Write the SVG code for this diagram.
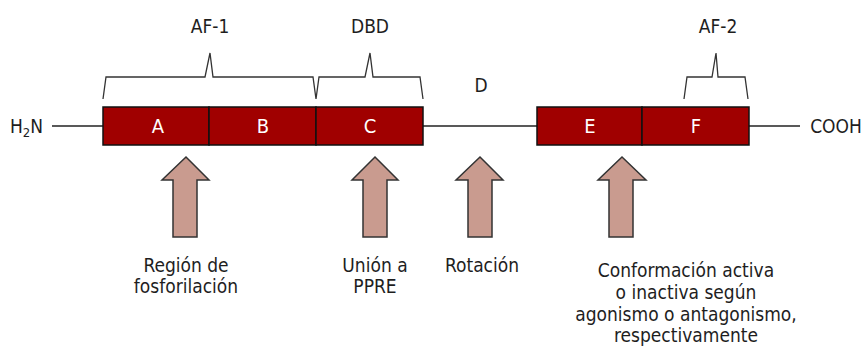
<svg xmlns="http://www.w3.org/2000/svg" width="865" height="347" viewBox="0 0 865 347">
<style>
text{font-family:"DejaVu Sans Condensed","Liberation Sans",sans-serif;font-stretch:condensed;font-size:19px;fill:#1e1e1e;text-anchor:middle}
.dom rect{fill:#a00000;stroke:#111;stroke-width:1.5}
.dom text{fill:#fff;font-size:20px}
.line{stroke:#222;stroke-width:1.5;fill:none}
.brace{stroke:#333;stroke-width:1.3;fill:none}
.arrow{fill:#c99b8f;stroke:#333;stroke-width:1.5}
</style>
<rect width="865" height="347" fill="#fff"/>
<g id="connectors">
<line class="line" x1="52" y1="126" x2="103" y2="126"/>
<line class="line" x1="423" y1="126" x2="537" y2="126"/>
<line class="line" x1="749" y1="126" x2="800" y2="126"/>
</g>
<g id="braces">
<path class="brace" d="M103,99 L106,77 L205,77 L210,53 L213,77 L313,77 L316,99 L319,77 L365,77 L370,53 L373,77 L420,77 L423,99"/>
<path class="brace" d="M684,99 L687,77 L712,77 L716,53 L718,77 L745,77 L748,99"/>
</g>
<g id="labels">
<text x="10" y="133" style="text-anchor:start">H<tspan font-size="13" dy="4">2</tspan><tspan dy="-4">N</tspan></text>
<text x="836" y="133">COOH</text>
<text x="210" y="33">AF-1</text>
<text x="370" y="33">DBD</text>
<text x="481" y="92">D</text>
<text x="718" y="33">AF-2</text>
</g>
<g id="node-A" class="dom"><rect x="103" y="107" width="106" height="38"/><text x="158" y="133">A</text></g>
<g id="node-B" class="dom"><rect x="209" y="107" width="107" height="38"/><text x="263" y="133">B</text></g>
<g id="node-C" class="dom"><rect x="316" y="107" width="107" height="38"/><text x="370" y="133">C</text></g>
<g id="node-E" class="dom"><rect x="537" y="107" width="105" height="38"/><text x="590" y="133">E</text></g>
<g id="node-F" class="dom"><rect x="642" y="107" width="107" height="38"/><text x="696" y="133">F</text></g>
<g id="arrow-fosforilacion">
<path class="arrow" d="M186,157 L209,180 L197,180 L197,237 L173,237 L173,180 L162,180 Z"/>
<text x="186" y="272">Región de</text>
<text x="186" y="293">fosforilación</text>
</g>
<g id="arrow-ppre">
<path class="arrow" d="M375,157 L398,180 L387,180 L387,237 L363,237 L363,180 L352,180 Z"/>
<text x="375" y="272">Unión a</text>
<text x="375" y="293">PPRE</text>
</g>
<g id="arrow-rotacion">
<path class="arrow" d="M480,157 L503,180 L492,180 L492,237 L468,237 L468,180 L456,180 Z"/>
<text x="482" y="272">Rotación</text>
</g>
<g id="arrow-conformacion">
<path class="arrow" d="M622,157 L646,180 L633,180 L633,237 L609,237 L609,180 L598,180 Z"/>
<text x="686" y="277">Conformación activa</text>
<text x="686" y="299">o inactiva según</text>
<text x="686" y="321">agonismo o antagonismo,</text>
<text x="686" y="342">respectivamente</text>
</g>
</svg>
